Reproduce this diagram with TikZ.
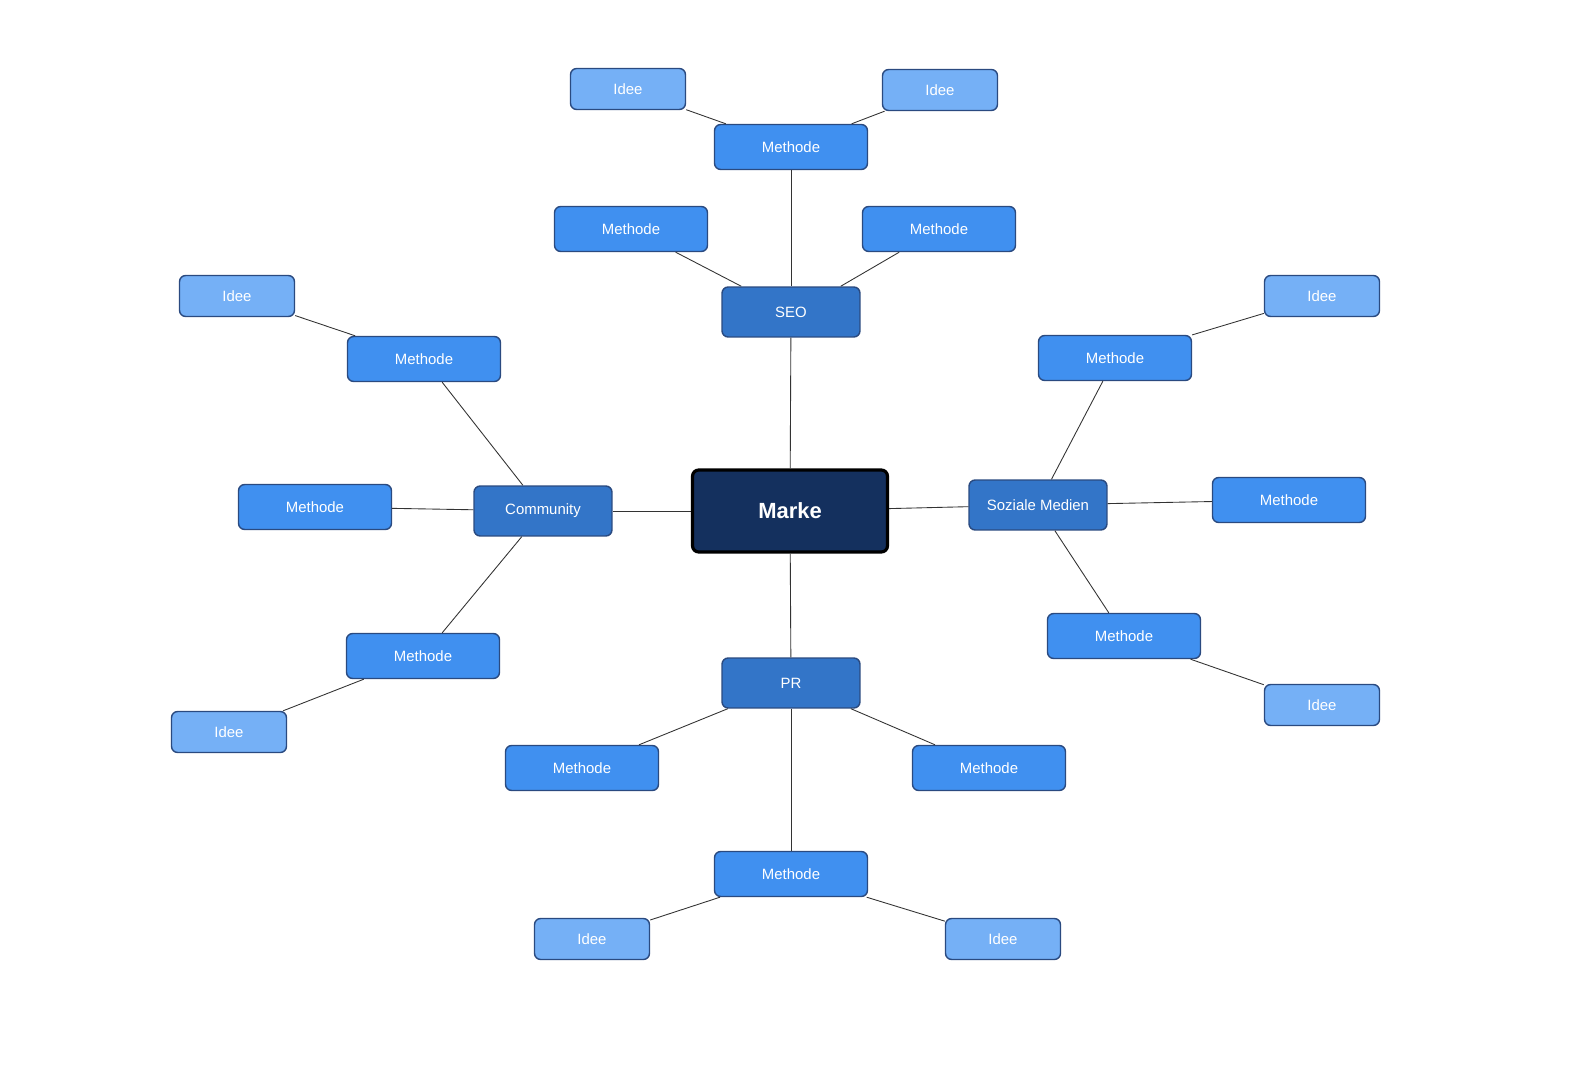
\documentclass[tikz,border=0pt]{standalone}
\usepackage{fontspec}
\setmainfont{Liberation Sans}
\definecolor{navy}{HTML}{14305E}
\definecolor{topc}{HTML}{3375C8}
\definecolor{methc}{HTML}{4090F0}
\definecolor{ideec}{HTML}{75B0F6}
\definecolor{edgec}{HTML}{2A4A80}
\begin{document}
\begin{tikzpicture}[x=0.02cm,y=-0.02cm,
 base/.style={rounded corners=3.5pt,text=white,font=\fontsize{8.5}{10}\selectfont,draw=edgec,line width=0.8pt,inner sep=0pt},
 marke/.style={base,fill=navy,draw=black,line width=1.8pt,minimum width=3.9cm,minimum height=1.64cm,font=\fontsize{12.5}{14}\selectfont\bfseries},
 topic/.style={base,fill=topc,minimum width=2.76cm,minimum height=1cm},
 meth/.style={base,fill=methc,minimum width=3.06cm,minimum height=0.9cm},
 idee/.style={base,fill=ideec,minimum width=2.3cm,minimum height=0.82cm},
 link/.style={draw=black!80,line width=0.5pt}]
\useasboundingbox (0,0) rectangle (1586,1067);
\node[marke] (m) at (790,511) {Marke};
\node[topic] (seo) at (791,312) {SEO};
\node[topic] (pr) at (791,683) {PR};
\node[topic] (com) at (543,511) {Community};
\node[topic] (soz) at (1038,505) {Soziale Medien};
\node[meth] (s1) at (791,147) {Methode};
\node[meth] (s2) at (631,229) {Methode};
\node[meth] (s3) at (939,229) {Methode};
\node[idee] (si1) at (628,89) {Idee};
\node[idee] (si2) at (940,90) {Idee};
\node[meth] (c1) at (424,359) {Methode};
\node[meth] (c2) at (315,507) {Methode};
\node[meth] (c3) at (423,656) {Methode};
\node[idee] (ci1) at (237,296) {Idee};
\node[idee] (ci2) at (229,732) {Idee};
\node[meth] (z1) at (1115,358) {Methode};
\node[meth] (z2) at (1289,500) {Methode};
\node[meth] (z3) at (1124,636) {Methode};
\node[idee] (zi1) at (1322,296) {Idee};
\node[idee] (zi2) at (1322,705) {Idee};
\node[meth] (p1) at (582,768) {Methode};
\node[meth] (p2) at (989,768) {Methode};
\node[meth] (p3) at (791,874) {Methode};
\node[idee] (pi1) at (592,939) {Idee};
\node[idee] (pi2) at (1003,939) {Idee};
\begin{scope}[on background layer/.style={}]
\end{scope}
\draw[link] (m) -- (seo); \draw[link] (m) -- (pr); \draw[link] (m) -- (com); \draw[link] (m) -- (soz);
\draw[link] (seo) -- (s1); \draw[link] (seo.north west)++(20,0) -- (s2); \draw[link] (seo.north east)++(-20,0) -- (s3);
\draw[link] (s1) -- (si1); \draw[link] (s1) -- (si2);
\draw[link] (com) -- (c1); \draw[link] (com) -- (c2); \draw[link] (com) -- (c3);
\draw[link] (c1) -- (ci1); \draw[link] (c3) -- (ci2);
\draw[link] (soz) -- (z1); \draw[link] (soz) -- (z2); \draw[link] (soz) -- (z3);
\draw[link] (z1) -- (zi1); \draw[link] (z3) -- (zi2);
\draw[link] (pr) -- (p1); \draw[link] (pr) -- (p2); \draw[link] (pr) -- (p3);
\draw[link] (p3) -- (pi1); \draw[link] (p3) -- (pi2);
\end{tikzpicture}
\end{document}
